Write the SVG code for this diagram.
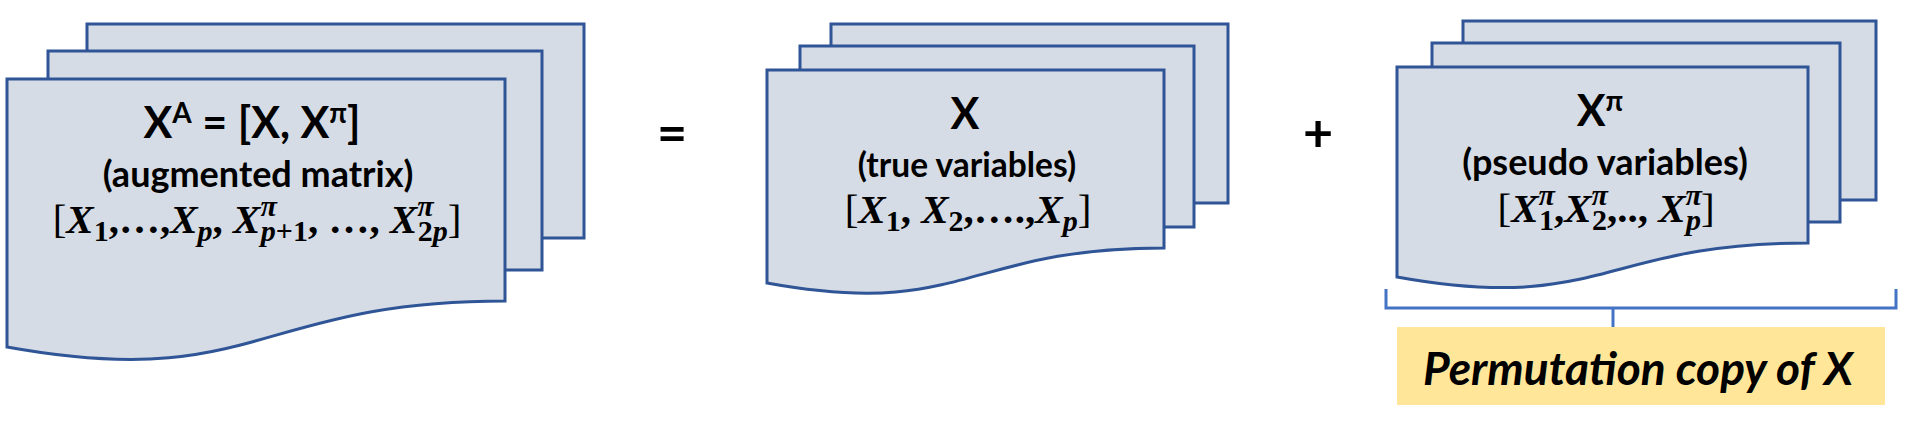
<svg xmlns="http://www.w3.org/2000/svg" width="1906" height="435" viewBox="0 0 1906 435">
<style>
.sheet{fill:#D6DCE5;stroke:#2F5597;stroke-width:3;stroke-linejoin:miter}
.t{font-family:Lato,"Open Sans","DejaVu Sans",sans-serif;font-weight:bold;fill:#000;text-anchor:middle}
.sup{font-size:28px}
.m{font-family:"Liberation Serif","DejaVu Serif",serif;font-weight:bold;fill:#000;text-anchor:middle;font-size:41px}
.i{font-style:italic}
.r{font-weight:normal}
.s{font-size:30px}
.op{font-family:Lato,"Open Sans","DejaVu Sans",sans-serif;font-weight:bold;font-size:52px;fill:#000;text-anchor:middle}
.br{fill:none;stroke:#4472C4;stroke-width:3}
</style>
<rect width="1906" height="435" fill="#FFFFFF"/>
<g id="stack-augmented">
<rect class="sheet" x="87" y="24" width="497" height="214"/>
<rect class="sheet" x="48" y="51" width="494" height="219"/>
<path class="sheet" d="M7,79 H505 V301 C256,301 256,392 7,347 Z"/>
<text class="t" x="252" y="138" font-size="43">X<tspan class="sup" dy="-15">A</tspan><tspan dy="15"> = [X, X</tspan><tspan class="sup" dy="-15">π</tspan><tspan dy="15">]</tspan></text>
<text class="t" x="258" y="187" font-size="36">(augmented matrix)</text>
<text class="m" x="257" y="233"><tspan class="r">[</tspan><tspan class="i">X</tspan><tspan class="s" dy="8">1</tspan><tspan dy="-8">,…,</tspan><tspan class="i">X</tspan><tspan class="s i" dy="8">p</tspan><tspan dy="-8">, </tspan><tspan class="i">X</tspan><tspan class="s i" dy="-17">π</tspan><tspan class="s i" dx="-16" dy="25">p</tspan><tspan class="s">+1</tspan><tspan dy="-8">, …, </tspan><tspan class="i">X</tspan><tspan class="s i" dy="-17">π</tspan><tspan class="s" dx="-16" dy="25">2</tspan><tspan class="s i">p</tspan><tspan class="r" dy="-8">]</tspan></text>
</g>
<g id="op-equals"><text class="op" x="672" y="151">=</text></g>
<g id="stack-true">
<rect class="sheet" x="831" y="24" width="397" height="179"/>
<rect class="sheet" x="800" y="46" width="394" height="181"/>
<path class="sheet" d="M767,70 H1164 V248 C965,248 965,319 767,283 Z"/>
<text class="t" x="965" y="129" font-size="43">X</text>
<text class="t" x="967" y="177" font-size="33.5">(true variables)</text>
<text class="m" x="968" y="223"><tspan class="r">[</tspan><tspan class="i">X</tspan><tspan class="s" dy="8">1</tspan><tspan dy="-8">, </tspan><tspan class="i">X</tspan><tspan class="s" dy="8">2</tspan><tspan dy="-8">,….,</tspan><tspan class="i">X</tspan><tspan class="s i" dy="8">p</tspan><tspan class="r" dy="-8">]</tspan></text>
</g>
<g id="op-plus"><text class="op" x="1318" y="151">+</text></g>
<g id="stack-pseudo">
<rect class="sheet" x="1463" y="21" width="413" height="179"/>
<rect class="sheet" x="1432" y="43" width="408" height="179"/>
<path class="sheet" d="M1397,67 H1808 V243 C1602,243 1602,314 1397,277 Z"/>
<text class="t" x="1600" y="126" font-size="43">X<tspan class="sup" dy="-15">π</tspan></text>
<text class="t" x="1605" y="175" font-size="36">(pseudo variables)</text>
<text class="m" x="1606" y="222"><tspan class="r">[</tspan><tspan class="i">X</tspan><tspan class="s i" dy="-17">π</tspan><tspan class="s" dx="-16" dy="25">1</tspan><tspan dy="-8">,</tspan><tspan class="i">X</tspan><tspan class="s i" dy="-17">π</tspan><tspan class="s" dx="-16" dy="25">2</tspan><tspan dy="-8">,.., </tspan><tspan class="i">X</tspan><tspan class="s i" dy="-17">π</tspan><tspan class="s i" dx="-16" dy="25">p</tspan><tspan class="r" dy="-8">]</tspan></text>
</g>
<g id="connectors">
<path class="br" d="M1386,289 V308 H1896 V289"/>
<path class="br" d="M1613,308 V327"/>
</g>
<g id="label-permutation">
<rect x="1397" y="327" width="488" height="78" fill="#FFE699"/>
<text class="t" x="1638" y="385" font-size="46" font-style="italic">Permutation copy of X</text>
</g>
</svg>
